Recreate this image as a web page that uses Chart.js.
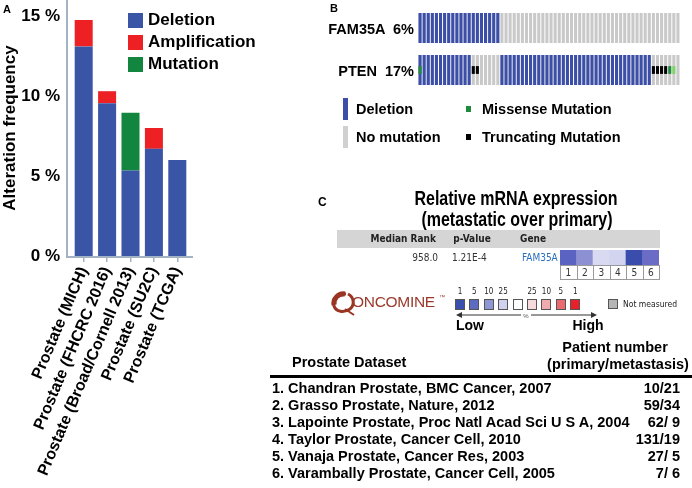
<!DOCTYPE html>
<html>
<head>
<meta charset="utf-8">
<script src="https://cdn.jsdelivr.net/npm/chart.js@4.4.0/dist/chart.umd.min.js"></script>
<style>
    body { margin: 0; background: #fff; }
    #page { position: relative; width: 692px; height: 488px; overflow: hidden; background: #fff;
            font-family: "Liberation Sans", Arial, sans-serif; font-weight: bold; color: #000; }
    .abs { position: absolute; white-space: pre; }
    canvas { position: absolute; }
    .ui { font-family: "DejaVu Sans Condensed", "DejaVu Sans", sans-serif; }
</style>
</head>
<body>
<div id="page">
    <canvas id="chartA" width="250" height="488" style="left:0;top:0"></canvas>
    <canvas id="chartB" width="262" height="72" style="left:418px;top:13px"></canvas>
    <canvas id="chartHeat" width="99" height="15" style="left:560px;top:250px"></canvas>
    <svg class="abs" width="692" height="488" style="left:0;top:0;pointer-events:none">
        <!-- oncomine swirl -->
        <path d="M346 294 C336 293 332 300 334 306 C336 312 344 313 350 309 C355 305 354 297 348 294"
              fill="none" stroke="#9b3523" stroke-width="3"/>
        <path d="M334 305 C333 299 338 293 345 294" fill="none" stroke="#9b3523" stroke-width="5"/>
        <path d="M345 309 L354 315" fill="none" stroke="#9b3523" stroke-width="2"/>
        <!-- low / high arrows -->
        <line x1="458" y1="315" x2="521" y2="315" stroke="#333" stroke-width="1"/>
        <path d="M456 315 L462 312 L462 318 Z" fill="#333"/>
        <line x1="531" y1="315" x2="594" y2="315" stroke="#333" stroke-width="1"/>
        <path d="M597 315 L591 312 L591 318 Z" fill="#333"/>
        <!-- table rule -->
        <line x1="270" y1="376.5" x2="692" y2="376.5" stroke="#000" stroke-width="3"/>
    </svg>
</div>
<script>
// ---------- panel A: alteration frequency ----------
const studies = ['Prostate (MICH)', 'Prostate (FHCRC 2016)', 'Prostate (Broad/Cornell 2013)', 'Prostate (SU2C)', 'Prostate (TCGA)'];
const deletion = [13.1, 9.55, 5.35, 6.7, 6.0];
const amplification = [1.65, 0.75, 0, 1.3, 0];
const mutation = [0, 0, 3.6, 0, 0];
const yTicks = [0, 5, 10, 15];

// ---------- panel B: oncoprint ----------
// one letter per sample: D deletion, T truncating, M missense, m other missense, X deletion + missense, - none
const genes = ['FAM35A', 'PTEN'];
const genePct = ['6%', '17%'];
const tracks = [
    'DDDDDDDDDDDDDDDDDDDD--------------------------------------------',
    'XDDDDDDDDDDDDTT-----DDDDDDDDDDDDDDDDDDDDDDDDDDDDDDDDDDDDDTTTTMm-',
];

// ---------- panel C: oncomine ----------
const heatCells = ['1', '2', '3', '4', '5', '6'];
const heatColors = ['#5a63c1', '#8d90d3', '#d9d9f1', '#d3d4ef', '#3a4dad', '#6a6cc5'];
const legendSteps = ['1', '5', '10', '25', '', '25', '10', '5', '1'];
const legendColors = ['#3a4fae', '#5e6cc0', '#8e96d4', '#cfd1ee', '#ffffff', '#f7dadb', '#f1aaae', '#ea6a70', '#e8202a'];
const prostateDatasets = [
    '1. Chandran Prostate, BMC Cancer, 2007',
    '2. Grasso Prostate, Nature, 2012',
    '3. Lapointe Prostate, Proc Natl Acad Sci U S A, 2004',
    '4. Taylor Prostate, Cancer Cell, 2010',
    '5. Vanaja Prostate, Cancer Res, 2003',
    '6. Varambally Prostate, Cancer Cell, 2005',
];
const patientNumbers = ['10/21', '59/34', '62/ 9', '131/19', '27/ 5', '7/ 6'];

const BLUE = '#3a54a6';
const RED = '#ed2024';
const GREEN = '#12863f';
const page = document.getElementById('page');

function addText(txt, x, y, style, align) {
    const el = document.createElement('div');
    el.className = 'abs';
    el.textContent = txt;
    el.style.lineHeight = '20px';
    el.style.top = (y - 10) + 'px';
    Object.assign(el.style, style || {});
    if (align === 'right') {
        el.style.right = (692 - x) + 'px';
    } else if (align === 'center') {
        el.style.left = x + 'px';
        el.style.transform = 'translateX(-50%)';
    } else {
        el.style.left = x + 'px';
    }
    page.appendChild(el);
    return el;
}

function addBox(x, y, w, h, style) {
    const el = document.createElement('div');
    el.className = 'abs';
    Object.assign(el.style, { left: x + 'px', top: y + 'px', width: w + 'px', height: h + 'px', boxSizing: 'border-box' }, style);
    page.appendChild(el);
    return el;
}

// ---------- panel A chart ----------
const axisLines = {
    id: 'axisLines',
    afterDraw(chart) {
        const { ctx, chartArea } = chart;
        ctx.save();
        ctx.strokeStyle = '#a3b3c3';
        ctx.lineWidth = 2;
        ctx.beginPath();
        ctx.moveTo(chartArea.left - 5, 0);
        ctx.lineTo(chartArea.left - 5, chartArea.bottom + 1);
        ctx.lineTo(chartArea.right + 4, chartArea.bottom + 1);
        ctx.stroke();
        ctx.restore();
    }
};

const boldFont = size => ({ family: 'Liberation Sans', size, weight: 'bold' });

new Chart(document.getElementById('chartA'), {
    type: 'bar',
    data: {
        labels: studies,
        datasets: [
            { label: 'Deletion', data: deletion, backgroundColor: BLUE },
            { label: 'Amplification', data: amplification, backgroundColor: RED },
            { label: 'Mutation', data: mutation, backgroundColor: GREEN },
        ]
    },
    options: {
        responsive: false,
        animation: false,
        layout: { padding: { left: 0, right: 61, top: 0, bottom: 0 } },
        plugins: { legend: { display: false }, tooltip: { enabled: false } },
        datasets: { bar: { barPercentage: 0.77, categoryPercentage: 1 } },
        scales: {
            x: {
                stacked: true,
                border: { display: false },
                grid: { offset: false, drawOnChartArea: false, drawTicks: true, tickLength: 6, color: '#a3b3c3', lineWidth: 1.5 },
                ticks: { autoSkip: false, minRotation: 67, maxRotation: 67, padding: 2, color: '#000', font: boldFont(16) },
                afterFit: s => { s.height = 488 - 256; s.paddingLeft = 0; s.paddingRight = 0; }
            },
            y: {
                stacked: true,
                min: 0,
                max: 16,
                border: { display: false },
                grid: { display: false, drawTicks: false },
                ticks: { padding: 12, color: '#000', font: boldFont(17), callback: v => v + ' %' },
                afterBuildTicks: s => { s.ticks = yTicks.map(v => ({ value: v })); },
                title: { display: true, text: 'Alteration frequency', color: '#000', font: boldFont(17), padding: 0 },
                afterFit: s => { s.width = 72; s.paddingTop = 0; s.paddingBottom = 0; }
            }
        }
    },
    plugins: [axisLines]
});

// panel A legend
['Deletion', 'Amplification', 'Mutation'].forEach((name, i) => {
    addBox(128, 13 + i * 22, 15, 15, { background: [BLUE, RED, GREEN][i] });
    addText(name, 148, 20 + i * 22, { fontSize: '17px' });
});
addText('A', 3, 9, { fontSize: '11px' });

// ---------- panel B chart ----------
const TRACK_GAP = 0.4;
const markColors = { T: '#000000', M: '#1f8a3c', X: '#1f8a3c', m: '#7fd46a' };
const bDatasets = [];
tracks.forEach((track, t) => {
    const base = (tracks.length - 1 - t) * (1 + TRACK_GAP);
    const cells = track.split('');
    bDatasets.push({
        data: cells.map(c => markColors[c] ? [base + 0.37, base + 0.63] : null),
        backgroundColor: cells.map(c => markColors[c] || 'rgba(0,0,0,0)'),
        order: 0
    });
    bDatasets.push({
        data: cells.map(c => (c === 'D' || c === 'X') ? [base, base + 1] : null),
        backgroundColor: '#3b4fa9',
        order: 1
    });
    bDatasets.push({
        data: cells.map(() => [base, base + 1]),
        backgroundColor: '#c9c9c9',
        order: 2
    });
});

new Chart(document.getElementById('chartB'), {
    type: 'bar',
    data: { labels: tracks[0].split('').map((c, i) => i + 1), datasets: bDatasets },
    options: {
        responsive: false,
        animation: false,
        layout: { padding: 0 },
        plugins: { legend: { display: false }, tooltip: { enabled: false } },
        datasets: { bar: { grouped: false, barPercentage: 0.75, categoryPercentage: 1 } },
        scales: {
            x: { display: false },
            y: { display: false, min: 0, max: tracks.length + (tracks.length - 1) * TRACK_GAP }
        }
    }
});

genes.forEach((g, i) => {
    addText(g + '  ' + genePct[i], 414, [29, 71][i], { fontSize: '14.5px' }, 'right');
});
addText('B', 330, 8, { fontSize: '11px' });
addBox(343, 98, 5, 22, { background: '#3b4fa9' });
addBox(343, 126, 5, 22, { background: '#d0d0d0' });
addText('Deletion', 356, 109, { fontSize: '14.5px' });
addText('No mutation', 356, 137, { fontSize: '14.5px' });
addBox(466, 106, 5, 6, { background: '#1f8a3c' });
addBox(466, 134, 5, 6, { background: '#000' });
addText('Missense Mutation', 482, 109, { fontSize: '14.5px' });
addText('Truncating Mutation', 482, 137, { fontSize: '14.5px' });

// ---------- panel C ----------
addText('C', 318, 202, { fontSize: '12px' });
const t1 = addText('Relative mRNA expression', 516, 198, { fontSize: '20px' }, 'center');
t1.style.transform = 'translateX(-50%) scaleX(0.8)';
const t2 = addText('(metastatic over primary)', 517, 219, { fontSize: '20px' }, 'center');
t2.style.transform = 'translateX(-50%) scaleX(0.8)';

addBox(337, 230, 323, 18, { background: '#d5d5d5' });
const uiHead = { fontSize: '10px', color: '#222', fontWeight: 'bold' };
const uiBody = { fontSize: '10px', color: '#333', fontWeight: 'normal' };
addText('Median Rank', 436, 239, uiHead, 'right').classList.add('ui');
addText('p-Value', 472, 239, uiHead, 'center').classList.add('ui');
addText('Gene', 533, 239, uiHead, 'center').classList.add('ui');
addText('958.0', 438, 258, uiBody, 'right').classList.add('ui');
addText('1.21E-4', 452, 258, uiBody).classList.add('ui');
addText('FAM35A', 522, 258, Object.assign({}, uiBody, { color: '#2a6fbd' })).classList.add('ui');

new Chart(document.getElementById('chartHeat'), {
    type: 'bar',
    data: { labels: heatCells, datasets: [{ data: heatCells.map(() => 1), backgroundColor: heatColors }] },
    options: {
        responsive: false,
        animation: false,
        layout: { padding: 0 },
        plugins: { legend: { display: false }, tooltip: { enabled: false } },
        datasets: { bar: { barPercentage: 1, categoryPercentage: 1 } },
        scales: { x: { display: false }, y: { display: false, min: 0, max: 1 } }
    }
});
heatCells.forEach((n, i) => {
    const cellW = 99 / heatCells.length;
    addBox(560 + i * cellW, 265, cellW + 1, 15, { border: '1px solid #9a9a9a', background: '#fff' });
    addText(n, 560 + (i + 0.5) * cellW, 273, uiBody, 'center').classList.add('ui');
});

// oncomine legend
addText('ONCOMINE', 352, 302, { fontSize: '15.5px', fontWeight: 'normal', color: '#9b3a2a', letterSpacing: '-0.3px' });
addText('™', 439, 297, { fontSize: '6px', fontWeight: 'normal', color: '#9b3a2a' });
legendColors.forEach((col, i) => {
    const x = 455 + i * 14.4;
    addBox(x, 299, 10, 11, { background: col, border: '1px solid #555' });
    if (legendSteps[i]) addText(legendSteps[i], x + 5, 292, { fontSize: '8px', fontWeight: 'normal', color: '#222' }, 'center').classList.add('ui');
});
addText('%', 526, 316, { fontSize: '6px', fontWeight: 'normal', color: '#555' }, 'center');
addBox(608, 299, 10, 10, { background: '#b5b5b5', border: '1px solid #555' });
addText('Not measured', 623, 304, { fontSize: '8.5px', fontWeight: 'normal', color: '#222' }).classList.add('ui');
addText('Low', 470, 325, { fontSize: '14px' }, 'center');
addText('High', 588, 325, { fontSize: '14px' }, 'center');

// dataset table
addText('Prostate Dataset', 292, 362, { fontSize: '14.5px' });
addText('Patient number', 615, 347, { fontSize: '14.5px' }, 'center');
addText('(primary/metastasis)', 618, 364, { fontSize: '14.5px' }, 'center');
prostateDatasets.forEach((name, i) => {
    addText(name, 272, 388 + i * 17, { fontSize: '14.5px' });
    addText(patientNumbers[i], 680, 388 + i * 17, { fontSize: '14.5px' }, 'right');
});
</script>
</body>
</html>
